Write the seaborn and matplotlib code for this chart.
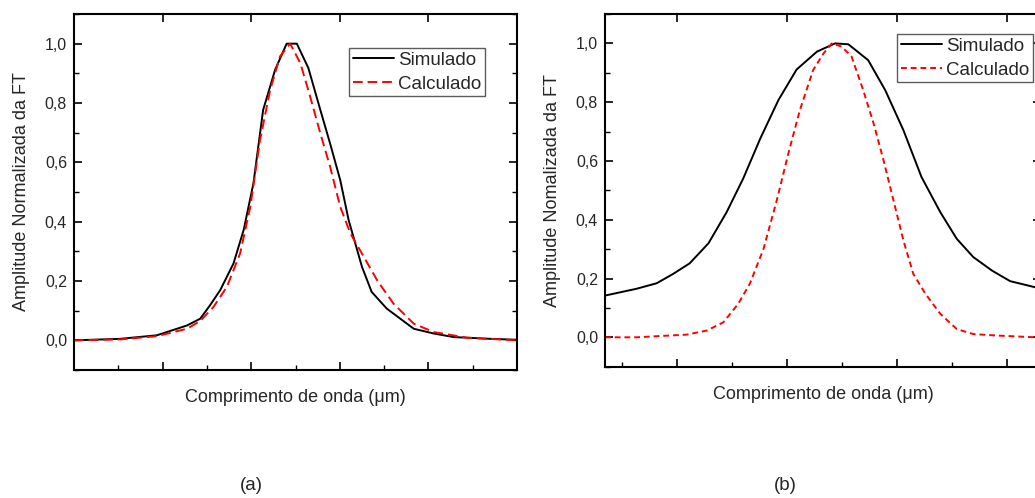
import numpy as np
import pandas as pd
import matplotlib
matplotlib.use("Agg")
import matplotlib.pyplot as plt
from matplotlib.ticker import MultipleLocator, FuncFormatter
import seaborn as sns

# Panel (a) curves (x in arbitrary wavelength units)
a_sim_x = [0.0, 1.04, 1.87, 2.55, 2.85, 3.07, 3.30, 3.60, 3.83, 4.05, 4.27, 4.54, 4.80, 5.03,
           5.29, 5.56, 5.78, 6.01, 6.20, 6.50, 6.72, 7.06, 7.67, 8.12, 8.57, 9.40, 10.0]
a_sim_y = [0.0, 0.005, 0.017, 0.05, 0.073, 0.118, 0.169, 0.259, 0.372, 0.529, 0.777, 0.912, 1.0, 1.0,
           0.918, 0.777, 0.664, 0.54, 0.405, 0.248, 0.163, 0.107, 0.039, 0.023, 0.011, 0.005, 0.002]
a_calc_x = [0.0, 1.04, 1.87, 2.55, 2.85, 3.15, 3.45, 3.75, 3.98, 4.20, 4.43, 4.65, 4.88, 5.11,
            5.33, 5.56, 5.78, 6.01, 6.24, 6.54, 6.84, 7.21, 7.67, 8.12, 8.87, 10.0]
a_calc_y = [0.0, 0.003, 0.014, 0.039, 0.065, 0.113, 0.18, 0.293, 0.45, 0.676, 0.845, 0.957, 1.0, 0.934,
            0.822, 0.698, 0.586, 0.45, 0.36, 0.282, 0.203, 0.124, 0.056, 0.028, 0.009, 0.0]

# Panel (b) curves
b_sim_x = [0.70, 1.27, 1.64, 1.94, 2.24, 2.58, 2.91, 3.21, 3.52, 3.85, 4.18, 4.55, 4.88, 5.12,
           5.48, 5.79, 6.12, 6.45, 6.79, 7.09, 7.39, 7.73, 8.06, 8.52]
b_sim_y = [0.142, 0.165, 0.184, 0.216, 0.252, 0.32, 0.426, 0.54, 0.676, 0.807, 0.911, 0.972, 1.0, 0.997,
           0.943, 0.841, 0.705, 0.545, 0.426, 0.335, 0.273, 0.227, 0.191, 0.170]
b_calc_x = [0.70, 1.27, 1.76, 2.18, 2.55, 2.85, 3.12, 3.33, 3.58, 3.82, 4.03, 4.24, 4.48, 4.67, 4.82,
            5.0, 5.18, 5.39, 5.58, 5.76, 5.94, 6.12, 6.30, 6.52, 6.79, 7.09, 7.39, 7.82, 8.52]
b_calc_y = [0.0, 0.0, 0.005, 0.009, 0.023, 0.051, 0.114, 0.182, 0.301, 0.466, 0.625, 0.773, 0.909, 0.966, 1.0,
            0.989, 0.955, 0.841, 0.727, 0.602, 0.466, 0.33, 0.216, 0.148, 0.08, 0.028, 0.011, 0.006, 0.0]

ylabels = ["Amplitude Normalizada da FT", "Amplitude Nomalizada da FT"]
xlabel = "Comprimento de onda (\u03bcm)"
panel_tags = ["(a)", "(b)"]

sns.set_style("ticks")
plt.rcParams["font.family"] = ["Liberation Sans", "DejaVu Sans"]

W, H = 1035, 498
fig = plt.figure(figsize=(W / 100, H / 100), dpi=100)

def px_axes(left, top, right, bottom):
    return fig.add_axes([left / W, 1 - bottom / H, (right - left) / W, (bottom - top) / H])

ax_a = px_axes(74, 14, 517, 370)
ax_b = px_axes(605, 14, 1041, 366.7)

panels = [
    (ax_a, a_sim_x, a_sim_y, a_calc_x, a_calc_y, (0, 10), (5, 2.5), (349 / W, 1 - 48 / H)),
    (ax_b, b_sim_x, b_sim_y, b_calc_x, b_calc_y, (0.7, 8.62), (3, 2), (897 / W, 1 - 34 / H)),
]

comma = FuncFormatter(lambda v, p: f"{v:.1f}".replace(".", ","))

for i, (ax, sx, sy, cx, cy, xlim, dash, leg_pos) in enumerate(panels):
    sns.lineplot(x=sx, y=sy, ax=ax, color="black", lw=1.4, label="Simulado",
                 sort=False, estimator=None)
    sns.lineplot(x=cx, y=cy, ax=ax, color="#ff0000", lw=1.4, label="Calculado",
                 sort=False, estimator=None)
    ax.lines[-1].set_dashes(dash)
    ax.set_xlim(*xlim)
    ax.set_ylim(-0.1, 1.1)
    ax.xaxis.set_major_locator(MultipleLocator(2))
    ax.xaxis.set_minor_locator(MultipleLocator(1))
    ax.yaxis.set_major_locator(MultipleLocator(0.2))
    ax.yaxis.set_minor_locator(MultipleLocator(0.1))
    ax.yaxis.set_major_formatter(comma)
    ax.set_xticklabels([])
    ax.tick_params(which="major", direction="in", length=6, width=1.2, top=True, right=True,
                   labelsize=11.5, color="black", pad=5)
    ax.tick_params(which="minor", direction="in", length=3.5, width=1.0, top=False, right=True,
                   color="black")
    for s in ax.spines.values():
        s.set_linewidth(1.5)
        s.set_color("black")
    ax.set_ylabel(ylabels[i], fontsize=13, labelpad=11)
    ax.set_xlabel(xlabel, fontsize=13, labelpad=9)
    leg = ax.legend(loc="upper left", bbox_to_anchor=leg_pos, bbox_transform=fig.transFigure,
                    fontsize=13.5, frameon=True, fancybox=False, borderpad=0.2,
                    handlelength=2.2, handletextpad=0.2, labelspacing=0.35, borderaxespad=0)
    leg.get_frame().set_edgecolor("#333333")
    leg.get_frame().set_linewidth(1.0)

fig.text(251 / W, 1 - 485 / H, panel_tags[0], ha="center", va="center", fontsize=13.5)
fig.text(785 / W, 1 - 485 / H, panel_tags[1], ha="center", va="center", fontsize=13.5)

fig.savefig("out.png", dpi=100)
